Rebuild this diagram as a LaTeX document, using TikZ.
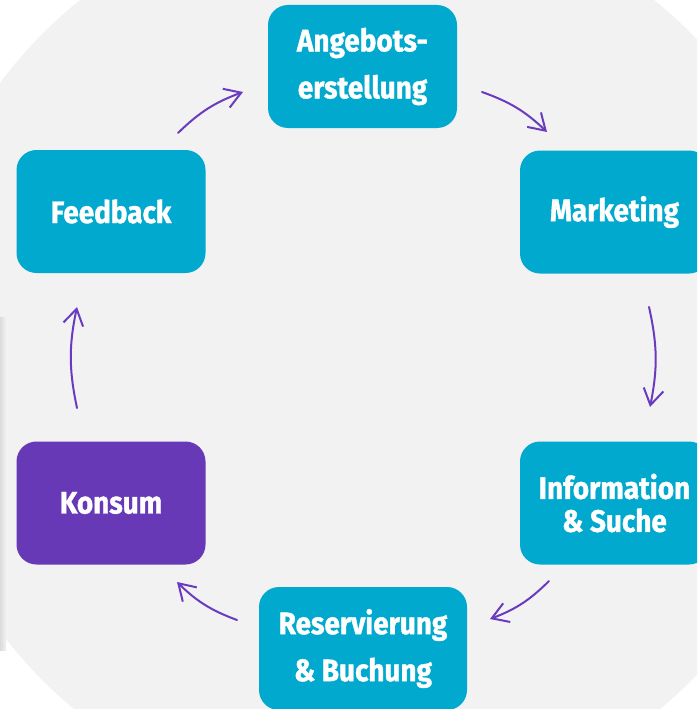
\documentclass[tikz,border=0pt]{standalone}
\usepackage{fontspec}
\setmainfont{Fira Sans}[FakeStretch=0.9, BoldFeatures={FakeBold=1.2}]
\usetikzlibrary{arrows.meta}

\definecolor{bggray}{HTML}{F2F2F2}
\definecolor{boxteal}{HTML}{00A9CD}
\definecolor{boxpurple}{HTML}{6739B6}
\definecolor{arrowpurple}{HTML}{6A3BBF}

\begin{document}
\begin{tikzpicture}[x=1pt, y=-1pt]
\tikzset{ >={Straight Barb[length=16pt, width=20pt]},
  step box/.style={fill=boxteal, rounded corners=20pt, minimum width=189pt,
    minimum height=123pt, inner sep=0pt, text=white, align=center,
    font=\fontsize{31}{47}\selectfont\bfseries},
  cycle arrow/.style={->, arrowpurple, line width=2pt, line cap=round, bend left=12},
}

\clip (0,0) rectangle (697,709);
\fill [white] (0,0) rectangle (697,709);
\fill [bggray] (367,357) circle (458);
\shade [left color=black!14, right color=bggray] (0,317) rectangle (6,650);

%\draw [lightgray, dashed](0,0) grid[step=50] (697,709);

\node [step box] (A) at (362.5,66.5) {Angebots-\\erstellung};
\node [step box] (M) at (614.5,212) {Marketing};
\node [step box, font=\fontsize{31}{33}\selectfont\bfseries] (I) at (614.5,503) {Information\\\& Suche};
\node [step box, minimum width=208pt] (R) at (363,648.5) {Reservierung\\\& Buchung};
\node [step box, fill=boxpurple] (K) at (111,503) {Konsum};
\node [step box] (F) at (111,211.5) {Feedback};

\coordinate (FA1) at (178,133);
\coordinate (FA2) at (243,92);
\coordinate (AM1) at (482,92);
\coordinate (AM2) at (547,132);
\coordinate (MI1) at (649,307);
\coordinate (MI2) at (650,407);
\coordinate (IR1) at (549,581);
\coordinate (IR2) at (490,619);
\coordinate (RK1) at (237,620);
\coordinate (RK2) at (177,582);
\coordinate (KF1) at (77,408);
\coordinate (KF2) at (77,307);

\draw [cycle arrow] (FA1) to (FA2);
\draw [cycle arrow] (AM1) to (AM2);
\draw [cycle arrow] (MI1) to (MI2);
\draw [cycle arrow] (IR1) to (IR2);
\draw [cycle arrow] (RK1) to (RK2);
\draw [cycle arrow] (KF1) to (KF2);

\end{tikzpicture}
\end{document}
